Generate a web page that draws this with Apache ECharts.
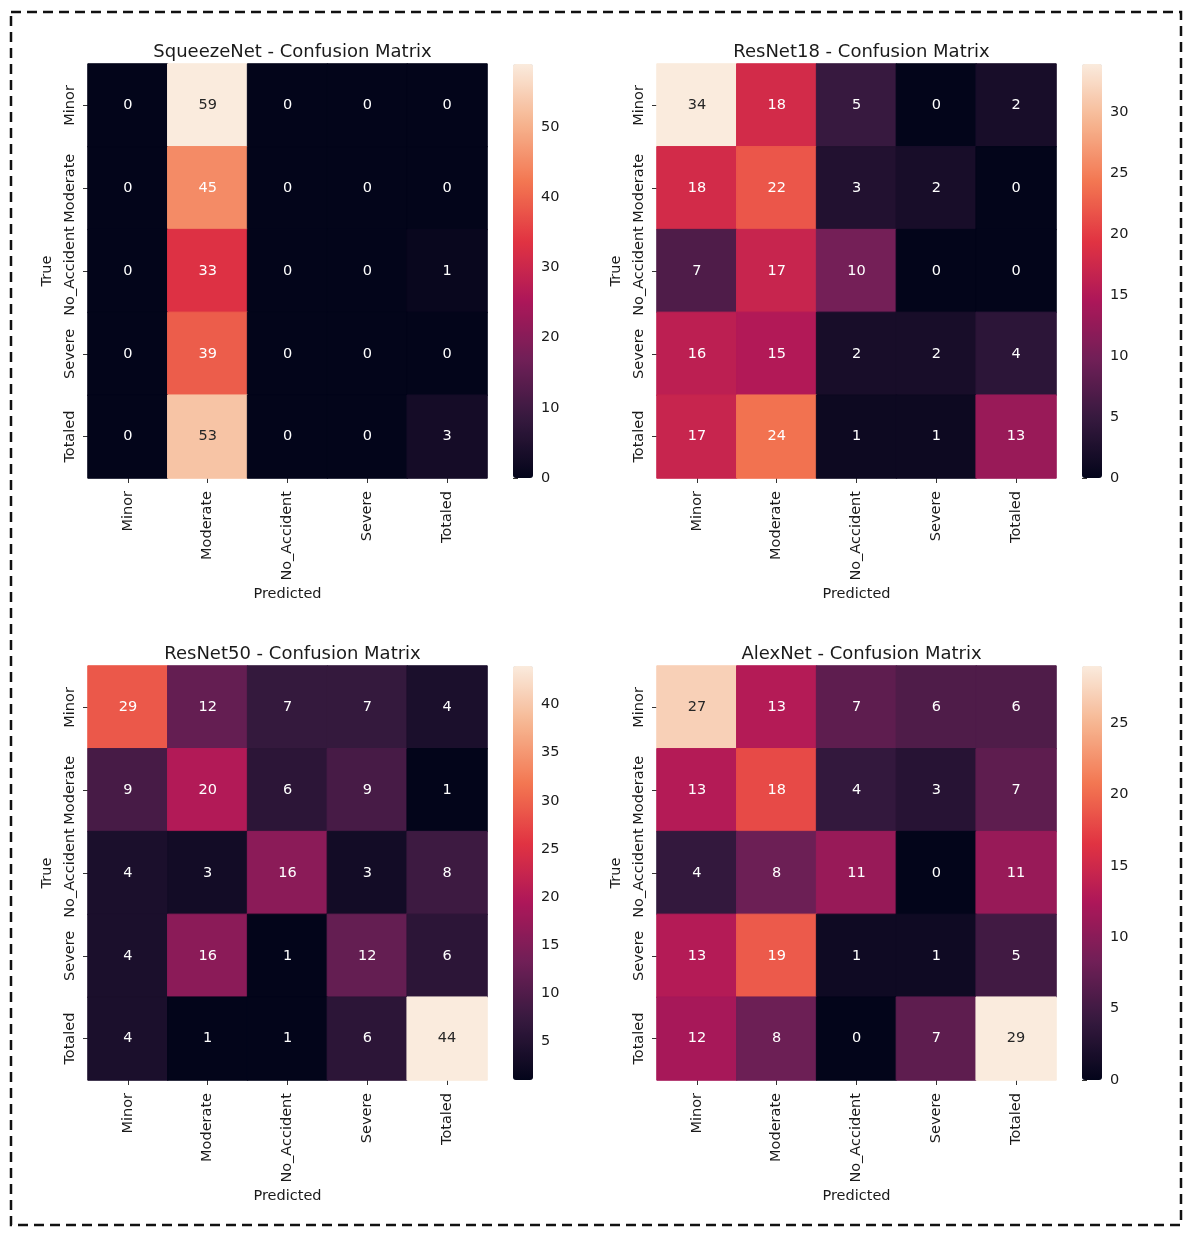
<!DOCTYPE html>
<html>
<head>
<meta charset="utf-8">
<script src="https://cdn.jsdelivr.net/npm/echarts@6/dist/echarts.min.js"></script>
<style>
  html, body { margin: 0; padding: 0; background: #fff; }
  #main { width: 1192px; height: 1236px; }
</style>
</head>
<body>
<div id="main"></div>
<script>
// class labels (same on both axes)
var classes = ['Minor', 'Moderate', 'No_Accident', 'Severe', 'Totaled'];

var titles = [
  'SqueezeNet - Confusion Matrix',
  'ResNet18 - Confusion Matrix',
  'ResNet50 - Confusion Matrix',
  'AlexNet - Confusion Matrix'
];

// rows = true class, columns = predicted class
var squeezeNet = [
  [0, 59, 0, 0, 0],
  [0, 45, 0, 0, 0],
  [0, 33, 0, 0, 1],
  [0, 39, 0, 0, 0],
  [0, 53, 0, 0, 3]
];
var resNet18 = [
  [34, 18, 5, 0, 2],
  [18, 22, 3, 2, 0],
  [7, 17, 10, 0, 0],
  [16, 15, 2, 2, 4],
  [17, 24, 1, 1, 13]
];
var resNet50 = [
  [29, 12, 7, 7, 4],
  [9, 20, 6, 9, 1],
  [4, 3, 16, 3, 8],
  [4, 16, 1, 12, 6],
  [4, 1, 1, 6, 44]
];
var alexNet = [
  [27, 13, 7, 6, 6],
  [13, 18, 4, 3, 7],
  [4, 8, 11, 0, 11],
  [13, 19, 1, 1, 5],
  [12, 8, 0, 7, 29]
];

// colorbar ranges and tick labels
var cbarRanges = [[0, 59], [0, 34], [1, 44], [0, 29]];
var cbarTicks = [
  [0, 10, 20, 30, 40, 50],
  [0, 5, 10, 15, 20, 25, 30],
  [5, 10, 15, 20, 25, 30, 35, 40],
  [0, 5, 10, 15, 20, 25]
];

var matrices = [squeezeNet, resNet18, resNet50, alexNet];

// seaborn "rocket", evenly spaced stops
var rocket = ['#03051A', '#35193E', '#701F57', '#AD1759', '#E13342',
              '#F37651', '#F6B48F', '#FAEBDD'];

var FONT = 'DejaVu Sans';
var panelLeft = [88, 657, 88, 657];
var panelTop = [64, 64, 666, 666];
var mapW = 399, mapH = 414;

function hexRgb(h) {
  return [parseInt(h.substr(1, 2), 16), parseInt(h.substr(3, 2), 16), parseInt(h.substr(5, 2), 16)];
}
function cmap(t) {
  var n = rocket.length - 1;
  var p = Math.max(0, Math.min(1, t)) * n;
  var i = Math.min(n - 1, Math.floor(p)), f = p - i;
  var a = hexRgb(rocket[i]), b = hexRgb(rocket[i + 1]);
  return [0, 1, 2].map(function (c) { return Math.round(a[c] + (b[c] - a[c]) * f); });
}
function luminance(rgb) {
  var l = rgb.map(function (c) {
    c = c / 255;
    return c <= 0.03928 ? c / 12.92 : Math.pow((c + 0.055) / 1.055, 2.4);
  });
  return 0.2126 * l[0] + 0.7152 * l[1] + 0.0722 * l[2];
}

var grid = [], xAxis = [], yAxis = [], series = [], visualMap = [], title = [];

matrices.forEach(function (m, k) {
  var lo = cbarRanges[k][0], hi = cbarRanges[k][1];
  var data = [];
  m.forEach(function (row, i) {
    row.forEach(function (v, j) {
      var rgb = cmap((v - lo) / (hi - lo));
      var col = 'rgb(' + rgb.join(',') + ')';
      data.push({
        value: [j, i, v],
        itemStyle: { borderColor: col, borderWidth: 1 },
        label: { color: luminance(rgb) > 0.408 ? '#262626' : '#ffffff' }
      });
    });
  });

  title.push({
    text: titles[k],
    left: panelLeft[k] + mapW / 2,
    top: panelTop[k] - 26,
    textAlign: 'center',
    textStyle: { fontFamily: FONT, fontSize: 18, fontWeight: 'normal', color: '#1a1a1a' }
  });

  // heatmap grid
  grid.push({ left: panelLeft[k], top: panelTop[k], width: mapW, height: mapH });
  xAxis.push({
    type: 'category', gridIndex: 2 * k, data: classes,
    name: 'Predicted', nameLocation: 'middle', nameGap: 109,
    nameTextStyle: { fontFamily: FONT, fontSize: 14.5, color: '#1a1a1a' },
    axisLine: { show: false },
    axisTick: { show: true, alignWithLabel: true, length: 5, lineStyle: { color: '#333' } },
    axisLabel: { interval: 0, rotate: 90, margin: 13, fontFamily: FONT, fontSize: 14.5, color: '#1a1a1a' },
    splitLine: { show: false }
  });
  yAxis.push({
    type: 'category', gridIndex: 2 * k, data: classes, inverse: true,
    name: 'True', nameLocation: 'middle', nameGap: 33,
    nameTextStyle: { fontFamily: FONT, fontSize: 14.5, color: '#1a1a1a' },
    axisLine: { show: false },
    axisTick: { show: true, alignWithLabel: true, length: 5, lineStyle: { color: '#333' } },
    axisLabel: { interval: 0, rotate: 90, margin: 10, fontFamily: FONT, fontSize: 14.5, color: '#1a1a1a' },
    splitLine: { show: false }
  });
  series.push({
    type: 'heatmap', xAxisIndex: 2 * k, yAxisIndex: 2 * k, data: data,
    label: { show: true, fontFamily: FONT, fontSize: 14.5 },
    emphasis: { disabled: true }
  });
  visualMap.push({
    type: 'continuous', seriesIndex: k, min: lo, max: hi, dimension: 2,
    calculable: false, text: null, showLabel: false,
    left: panelLeft[k] + 425, top: panelTop[k], padding: 0,
    itemWidth: 20, itemHeight: mapH, indicatorSize: 0,
    inRange: { color: rocket }, hoverLink: false
  });

  // colorbar axis
  grid.push({ left: panelLeft[k] + 425, top: panelTop[k], width: 20, height: mapH });
  xAxis.push({ type: 'value', gridIndex: 2 * k + 1, show: false });
  yAxis.push({
    type: 'value', gridIndex: 2 * k + 1, position: 'right', min: lo, max: hi,
    axisLine: { show: false },
    splitLine: { show: false },
    axisTick: { show: true, length: 5, lineStyle: { color: '#333' }, customValues: cbarTicks[k] },
    axisLabel: { fontFamily: FONT, fontSize: 14.5, color: '#1a1a1a', margin: 8, customValues: cbarTicks[k] }
  });
});

var myChart = echarts.init(document.getElementById('main'));
myChart.setOption({
  backgroundColor: '#fff',
  animation: false,
  title: title,
  grid: grid,
  xAxis: xAxis,
  yAxis: yAxis,
  visualMap: visualMap,
  series: series,
  graphic: [{
    type: 'rect',
    shape: { x: 11, y: 12, width: 1170, height: 1213 },
    style: { fill: 'none', stroke: '#111', lineWidth: 2.5, lineDash: [10, 6] }
  }]
});
</script>
</body>
</html>
